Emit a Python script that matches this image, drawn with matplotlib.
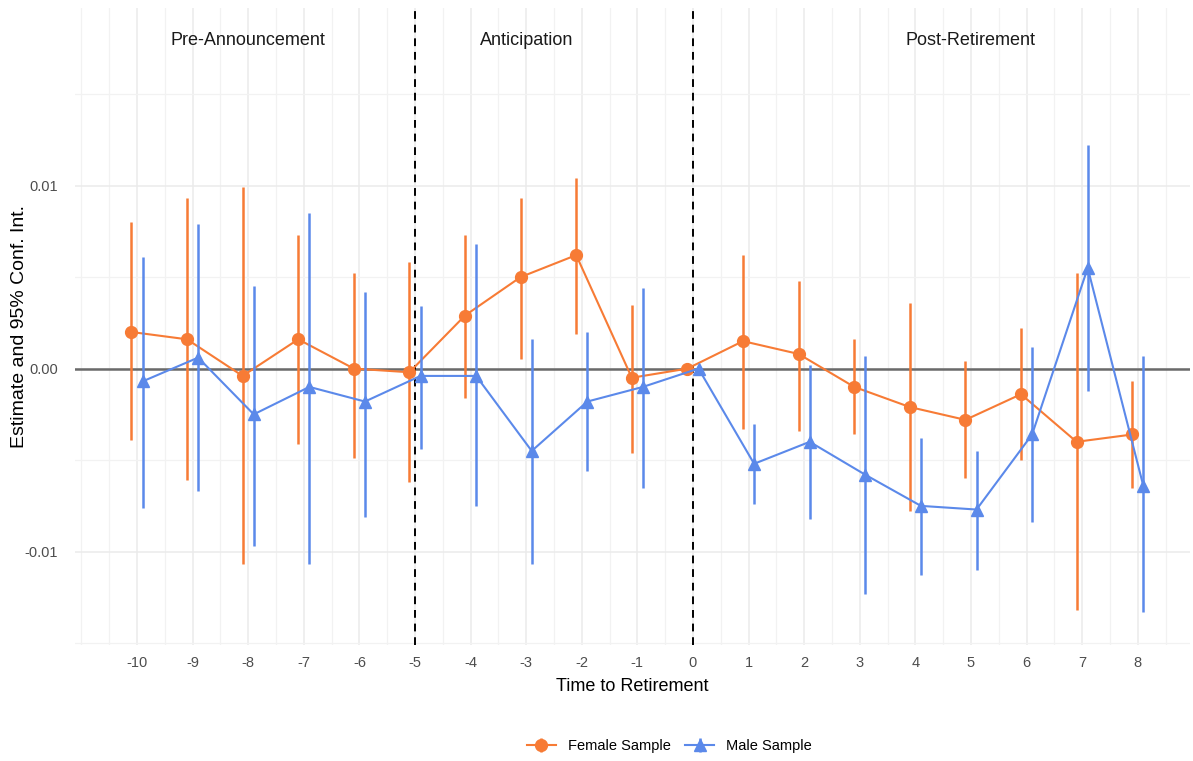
import matplotlib
matplotlib.use("Agg")
import matplotlib.pyplot as plt
from matplotlib.ticker import MultipleLocator
import numpy as np

plt.rcParams['font.family'] = ['Liberation Sans', 'DejaVu Sans']

# time to retirement
years = [-10, -9, -8, -7, -6, -5, -4, -3, -2, -1, 0, 1, 2, 3, 4, 5, 6, 7, 8]

# female sample: estimate, lower and upper 95% bound
fem_est = [0.0020, 0.0016, -0.0004, 0.0016, 0.0000, -0.0002, 0.0029, 0.0050, 0.0062, -0.0005, 0.0000,
           0.0015, 0.0008, -0.0010, -0.0021, -0.0028, -0.0014, -0.0040, -0.0036]
fem_lo = [-0.0039, -0.0061, -0.0107, -0.0041, -0.0049, -0.0062, -0.0016, 0.0005, 0.0019, -0.0046, 0.0000,
          -0.0033, -0.0034, -0.0036, -0.0078, -0.0060, -0.0050, -0.0132, -0.0065]
fem_hi = [0.0080, 0.0093, 0.0099, 0.0073, 0.0052, 0.0058, 0.0073, 0.0093, 0.0104, 0.0035, 0.0000,
          0.0062, 0.0048, 0.0016, 0.0036, 0.0004, 0.0022, 0.0052, -0.0007]

# male sample
male_est = [-0.0007, 0.0006, -0.0025, -0.0010, -0.0018, -0.0004, -0.0004, -0.0045, -0.0018, -0.0010, 0.0000,
            -0.0052, -0.0040, -0.0058, -0.0075, -0.0077, -0.0036, 0.0055, -0.0064]
male_lo = [-0.0076, -0.0067, -0.0097, -0.0107, -0.0081, -0.0044, -0.0075, -0.0107, -0.0056, -0.0065, 0.0000,
           -0.0074, -0.0082, -0.0123, -0.0113, -0.0110, -0.0084, -0.0012, -0.0133]
male_hi = [0.0061, 0.0079, 0.0045, 0.0085, 0.0042, 0.0034, 0.0068, 0.0016, 0.0020, 0.0044, 0.0000,
           -0.0030, 0.0002, 0.0007, -0.0038, -0.0045, 0.0012, 0.0122, 0.0007]

phases = ["Pre-Announcement", "Anticipation", "Post-Retirement"]
phase_x = [-8, -3, 5]

orange = "#F77B35"
blue = "#5B89EA"

fig = plt.figure(figsize=(11.93, 7.61), dpi=100)
ax = fig.add_axes([75 / 1193, 1 - 645 / 761, 1115 / 1193, 637 / 761])

x = np.array(years, dtype=float)
fe = np.array(fem_est)
me = np.array(male_est)
fyerr = [fe - np.array(fem_lo), np.array(fem_hi) - fe]
myerr = [me - np.array(male_lo), np.array(male_hi) - me]

ax.axhline(0, color="#6a6a6a", lw=1.8, zorder=2)
for v in [-5, 0]:
    ax.axvline(v, color="black", lw=1.4, ls=(0, (4, 3)), zorder=2)

h1 = ax.errorbar(x - 0.1, fe, yerr=fyerr, color=orange, ecolor=orange, elinewidth=1.8, lw=1.5,
                 marker="o", ms=8.5, capsize=0, label="Female Sample", zorder=3)
h2 = ax.errorbar(x + 0.1, me, yerr=myerr, color=blue, ecolor=blue, elinewidth=1.8, lw=1.5,
                 marker="^", ms=9, capsize=0, label="Male Sample", zorder=4)

for lab, px in zip(phases, phase_x):
    ax.text(px, 0.0179, lab, ha="center", va="center", fontsize=13, color="#1a1a1a")

ax.set_xlim(-11.115, 8.94)
ax.set_ylim(-0.0151, 0.0197)
ax.set_xticks(years)
ax.set_xticklabels([str(y) for y in years])
ax.xaxis.set_minor_locator(MultipleLocator(0.5))
ax.set_yticks([-0.01, 0.0, 0.01])
ax.set_yticklabels(["-0.01", "0.00", "0.01"])
ax.yaxis.set_minor_locator(MultipleLocator(0.005))

ax.grid(which="major", color="#EBEBEB", lw=1.1)
ax.grid(which="minor", color="#F2F2F2", lw=0.9)
ax.set_axisbelow(True)
for s in ax.spines.values():
    s.set_visible(False)
ax.tick_params(which="both", length=0, labelsize=10.5, labelcolor="#4D4D4D")
ax.tick_params(axis="x", pad=8)
ax.tick_params(axis="y", pad=12)

ax.set_xlabel("Time to Retirement", fontsize=13, labelpad=6)
ax.set_ylabel("Estimate and 95% Conf. Int.", fontsize=14)
ax.yaxis.set_label_coords(-0.042, 0.5)

fig.legend(handles=[h1, h2], loc="center", bbox_to_anchor=(0.561, 0.0197), ncol=2, frameon=False,
           fontsize=10.5, handlelength=2.0, columnspacing=1.0, handletextpad=0.8)

fig.savefig("out.png", dpi=100)
